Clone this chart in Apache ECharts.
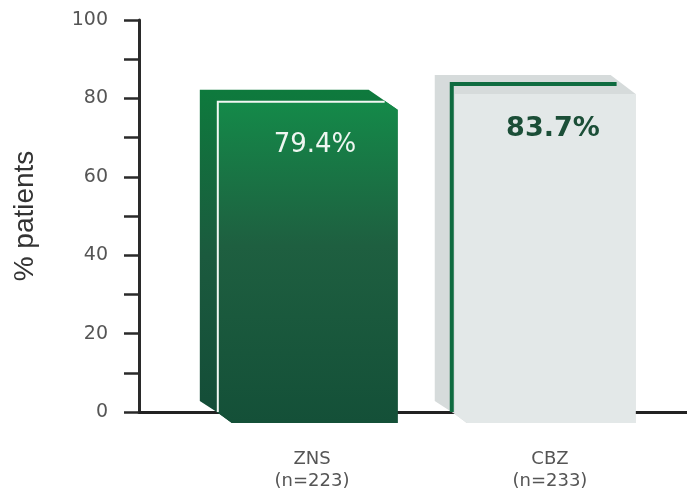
<!DOCTYPE html>
<html>
<head>
<meta charset="utf-8">
<script src="https://cdn.jsdelivr.net/npm/echarts@6/dist/echarts.min.js"></script>
<style>
  html, body { margin: 0; padding: 0; background: #fff; }
  #chart { width: 687px; height: 488px; }
</style>
</head>
<body>
<div id="chart"></div>
<script>
// Treatment groups and responder rates
const categories = ['ZNS', 'CBZ'];
const sampleSizes = ['(n=223)', '(n=233)'];
const responderRates = [79.4, 83.7];
const valueLabels = ['79.4%', '83.7%'];
const yTickValues = [0, 20, 40, 60, 80, 100];

const chart = echarts.init(document.getElementById('chart'));

const tickFont = '"DejaVu Sans", sans-serif';

// Solid green block with bevelled corners
function solidBlock(L, R, T, base, B) {
  const side = [[L - 17, T - 11], [R - 29, T - 11], [R, T + 9], [R, B], [L + 15, B], [L, base], [L - 17, base - 11]];
  const front = [[L, T], [R - 13, T], [R, T + 9], [R, B], [L + 15, B], [L, base]];
  return [
    { type: 'polygon', shape: { points: side }, style: { fill: new echarts.graphic.LinearGradient(0, 0, 0, 1, [
      { offset: 0, color: '#0e7a3d' }, { offset: 0.5, color: '#1b5a3e' }, { offset: 1, color: '#134c37' }]) } },
    { type: 'polygon', shape: { points: front }, style: { fill: new echarts.graphic.LinearGradient(0, 0, 0, 1, [
      { offset: 0, color: '#148a49' }, { offset: 0.45, color: '#1e5f40' }, { offset: 1, color: '#145038' }]) } },
    { type: 'polyline', shape: { points: [[L + 1, base], [L + 1, T + 1], [R - 13, T + 1]] },
      style: { stroke: '#f2f7f3', lineWidth: 2, fill: null } }
  ];
}

// Light grey block outlined by a green edge at the value
function outlinedBlock(L, R, G, base, B) {
  const T = G + 10;
  const side = [[L - 20, G - 9], [R - 25, G - 9], [R, T], [R, B], [L + 12, B], [L, base + 2], [L - 20, base - 11]];
  const front = [[L, T], [R, T], [R, B], [L + 12, B], [L, base + 2]];
  return [
    { type: 'polygon', shape: { points: side }, style: { fill: '#d6dbdb' } },
    { type: 'polygon', shape: { points: front }, style: { fill: '#e3e8e8' } },
    { type: 'polyline', shape: { points: [[L - 3, base], [L - 3, G], [R - 19, G]] },
      style: { stroke: '#0f6b40', lineWidth: 4, fill: null } }
  ];
}

const labelStyles = [
  { font: 'normal 26px "DejaVu Sans", sans-serif', fill: '#eef6f1' },
  { font: 'bold 27px "DejaVu Sans", sans-serif', fill: '#1b4e37' }
];

function renderItem(params, api) {
  const i = api.value(0);
  const v = api.value(1);
  const top = api.coord([i, v]);
  const cx = top[0];
  const vy = top[1];
  const base = api.coord([i, 0])[1];
  const unit = api.size([1, 0])[0];
  const L = cx - unit * 0.40;
  const R = cx + unit * 0.36;
  const B = base + 11;
  const children = i === 0 ? solidBlock(L, R, vy, base, B) : outlinedBlock(L, R, vy, base, B);
  children.push({
    type: 'text',
    style: Object.assign({
      text: valueLabels[i], x: cx + 3, y: vy + (i === 0 ? 44 : 45), align: 'center', verticalAlign: 'middle'
    }, labelStyles[i])
  });
  return { type: 'group', children: children };
}

chart.setOption({
  animation: false,
  backgroundColor: '#ffffff',
  grid: { left: 139, right: 0, top: 20, bottom: 76, outerBoundsMode: 'none' },
  xAxis: {
    type: 'value',
    min: -0.727,
    max: 1.576,
    splitLine: { show: false },
    axisTick: { show: false },
    axisLine: { show: true, onZero: false, lineStyle: { color: '#222', width: 3 } },
    axisLabel: {
      customValues: [0, 1],
      margin: 36,
      color: '#555',
      fontFamily: tickFont,
      fontSize: 18,
      lineHeight: 22,
      formatter: function (val) {
        const k = Math.round(val);
        return categories[k] + '\n' + sampleSizes[k];
      }
    }
  },
  yAxis: {
    type: 'value',
    min: 0,
    max: 100,
    interval: 20,
    name: '% patients',
    nameLocation: 'middle',
    nameGap: 100,
    nameTextStyle: { fontFamily: '"Liberation Sans", Arial, sans-serif', fontSize: 28, color: '#333' },
    splitLine: { show: false },
    axisLine: { show: true, onZero: false, lineStyle: { color: '#2a2a2a', width: 3 } },
    axisTick: { show: true, length: 15, lineStyle: { color: '#2a2a2a', width: 2.5 } },
    minorTick: { show: true, splitNumber: 2, length: 15, lineStyle: { color: '#2a2a2a', width: 2.5 } },
    axisLabel: {
      margin: 31,
      color: '#555',
      fontFamily: tickFont,
      fontSize: 19,
      customValues: yTickValues
    }
  },
  series: [{
    type: 'custom',
    renderItem: renderItem,
    data: responderRates.map(function (v, i) { return [i, v]; }),
    z: 5
  }]
});
</script>
</body>
</html>
